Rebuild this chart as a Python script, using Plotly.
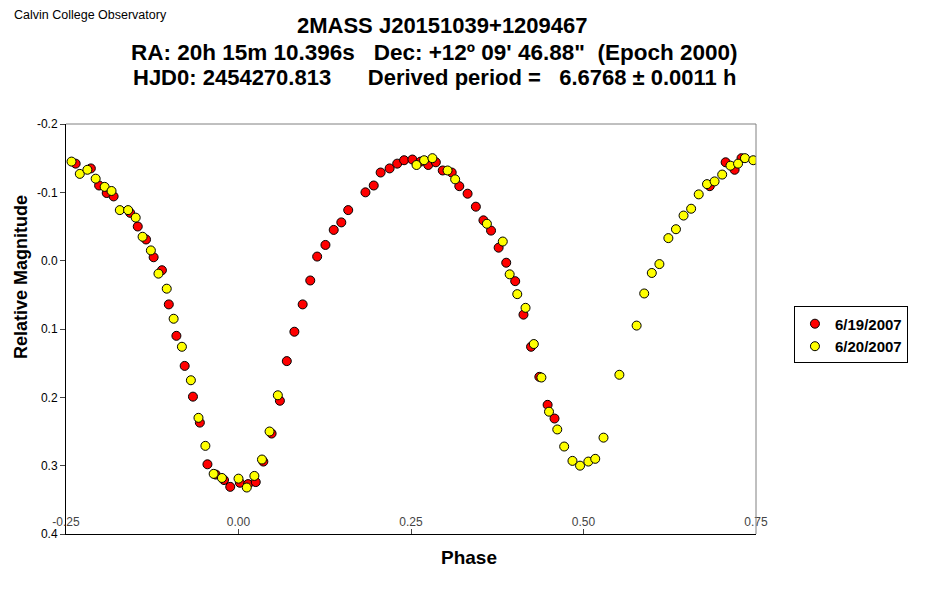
import plotly.graph_objects as go

# phase / relative magnitude
phase_0619 = [-0.236, -0.214, -0.202, -0.191, -0.181, -0.157, -0.146, -0.134, -0.123, -0.111,
              -0.101, -0.090, -0.078, -0.066, -0.056, -0.045, -0.033, -0.021, -0.012, 0.002,
              0.014, 0.025, 0.036, 0.048, 0.060, 0.070, 0.081, 0.093, 0.104, 0.114,
              0.126, 0.138, 0.149, 0.159, 0.184, 0.196, 0.206, 0.219, 0.230, 0.240,
              0.252, 0.264, 0.275, 0.286, 0.296, 0.309, 0.320, 0.332, 0.344, 0.355,
              0.366, 0.377, 0.388, 0.401, 0.413, 0.424, 0.436, 0.448, 0.458, 0.683,
              0.706, 0.719, 0.729]
mag_0619 = [-0.142, -0.135, -0.110, -0.099, -0.094, -0.070, -0.050, -0.031, -0.005, 0.014,
            0.064, 0.110, 0.154, 0.199, 0.237, 0.298, 0.313, 0.321, 0.331, 0.325,
            0.327, 0.324, 0.294, 0.253, 0.205, 0.147, 0.104, 0.064, 0.029, -0.006,
            -0.023, -0.045, -0.056, -0.074, -0.100, -0.110, -0.129, -0.135, -0.142, -0.147,
            -0.148, -0.145, -0.140, -0.144, -0.132, -0.129, -0.109, -0.098, -0.079, -0.059,
            -0.044, -0.019, 0.003, 0.030, 0.079, 0.126, 0.170, 0.211, 0.231, -0.109,
            -0.144, -0.133, -0.150]

phase_0620 = [-0.242, -0.230, -0.219, -0.207, -0.194, -0.184, -0.172, -0.160, -0.149, -0.139,
              -0.127, -0.116, -0.104, -0.094, -0.082, -0.069, -0.058, -0.048, -0.036, -0.024,
              0.000, 0.012, 0.023, 0.034, 0.045, 0.057, 0.258, 0.269, 0.281, 0.303,
              0.314, 0.360, 0.383, 0.393, 0.404, 0.416, 0.428, 0.439, 0.450, 0.462,
              0.472, 0.484, 0.495, 0.507, 0.517, 0.529, 0.552, 0.577, 0.588, 0.599,
              0.610, 0.623, 0.634, 0.645, 0.656, 0.667, 0.679, 0.690, 0.701, 0.713,
              0.724, 0.734, 0.746]
mag_0620 = [-0.145, -0.127, -0.133, -0.120, -0.108, -0.102, -0.074, -0.074, -0.063, -0.035,
            -0.015, 0.019, 0.041, 0.085, 0.126, 0.175, 0.230, 0.271, 0.312, 0.318,
            0.319, 0.332, 0.315, 0.291, 0.250, 0.197, -0.140, -0.147, -0.150, -0.132,
            -0.119, -0.054, -0.028, 0.020, 0.049, 0.069, 0.122, 0.171, 0.221, 0.247,
            0.272, 0.293, 0.300, 0.294, 0.290, 0.259, 0.167, 0.095, 0.048, 0.018,
            0.005, -0.033, -0.046, -0.066, -0.076, -0.097, -0.112, -0.116, -0.126, -0.139,
            -0.142, -0.150, -0.147]

x_ticks = [-0.25, 0.0, 0.25, 0.5, 0.75]
x_labels = ["-0.25", "0.00", "0.25", "0.50", "0.75"]
y_ticks = [-0.2, -0.1, 0.0, 0.1, 0.2, 0.3, 0.4]
y_labels = ["-0.2", "-0.1", "0.0", "0.1", "0.2", "0.3", "0.4"]

font = "Arial, Liberation Sans, sans-serif"
sp = "\u00a0"

fig = go.Figure()
fig.add_trace(go.Scatter(x=phase_0619, y=mag_0619, mode="markers", name="6/19/2007",
                         marker=dict(color="#FF0000", size=9, line=dict(color="black", width=1))))
fig.add_trace(go.Scatter(x=phase_0620, y=mag_0620, mode="markers", name="6/20/2007",
                         marker=dict(color="#FFFF00", size=9, line=dict(color="black", width=1))))

# page body adds an 8px offset, so the figure is sized to fit inside it
fig.update_layout(
    width=927, height=597,
    margin=dict(l=58, r=179, t=116, b=71),
    paper_bgcolor="white", plot_bgcolor="white",
    font=dict(family=font, color="black"),
    legend=dict(x=1.055, y=0.555, xanchor="left", yanchor="top",
                bordercolor="black", borderwidth=1, itemwidth=30,
                font=dict(size=15, family=font, weight="bold"),
                tracegroupgap=2),
)

fig.update_xaxes(range=[-0.25, 0.75], tickvals=x_ticks, ticktext=x_labels,
                 ticks="inside", ticklen=5, ticklabelposition="inside",
                 ticklabeloverflow="allow",
                 showline=True, linecolor="black", linewidth=1, showgrid=False, zeroline=False,
                 tickfont=dict(size=12))
fig.update_yaxes(range=[0.4, -0.2], tickvals=y_ticks, ticktext=y_labels,
                 ticks="outside", ticklen=5,
                 showline=True, linecolor="black", linewidth=1, showgrid=False, zeroline=False,
                 tickfont=dict(size=12))

# gray top and right frame lines
fig.add_shape(type="line", xref="paper", yref="paper", x0=0, x1=1, y0=1, y1=1,
              line=dict(color="#808080", width=1))
fig.add_shape(type="line", xref="paper", yref="paper", x0=1, x1=1, y0=0, y1=1,
              line=dict(color="#808080", width=1))

title_lines = [
    ("2MASS J20151039+1209467", 22, 442, 25),
    (f"RA: 20h 15m 10.396s{sp*3}Dec: +12º 09' 46.88\"{sp*2}(Epoch 2000)", 22.5, 434, 52),
    (f"HJD0: 2454270.813{sp*6}Derived period ={sp*3}6.6768 ± 0.0011 h", 22, 434, 78),
]
for text, size, cx, cy in title_lines:
    fig.add_annotation(text=f"<b>{text}</b>", xref="paper", yref="paper",
                       x=(cx - 66) / 690, y=(534 - cy) / 410,
                       xanchor="center", yanchor="middle", showarrow=False,
                       font=dict(size=size, family=font))

fig.add_annotation(text="Calvin College Observatory", xref="paper", yref="paper",
                   x=(12 - 66) / 690, y=(534 - 15) / 410, xanchor="left", yanchor="middle",
                   showarrow=False, font=dict(size=12.5, family=font))

# axis titles
fig.add_annotation(text="<b>Phase</b>", xref="paper", yref="paper",
                   x=(469 - 66) / 690, y=(534 - 557) / 410, xanchor="center", yanchor="middle",
                   showarrow=False, font=dict(size=19, family=font))
fig.add_annotation(text="<b>Relative Magnitude</b>", xref="paper", yref="paper",
                   x=(21 - 66) / 690, y=(534 - 277) / 410, xanchor="center", yanchor="middle",
                   textangle=-90, showarrow=False, font=dict(size=18, family=font))

fig.write_html("out.html")
